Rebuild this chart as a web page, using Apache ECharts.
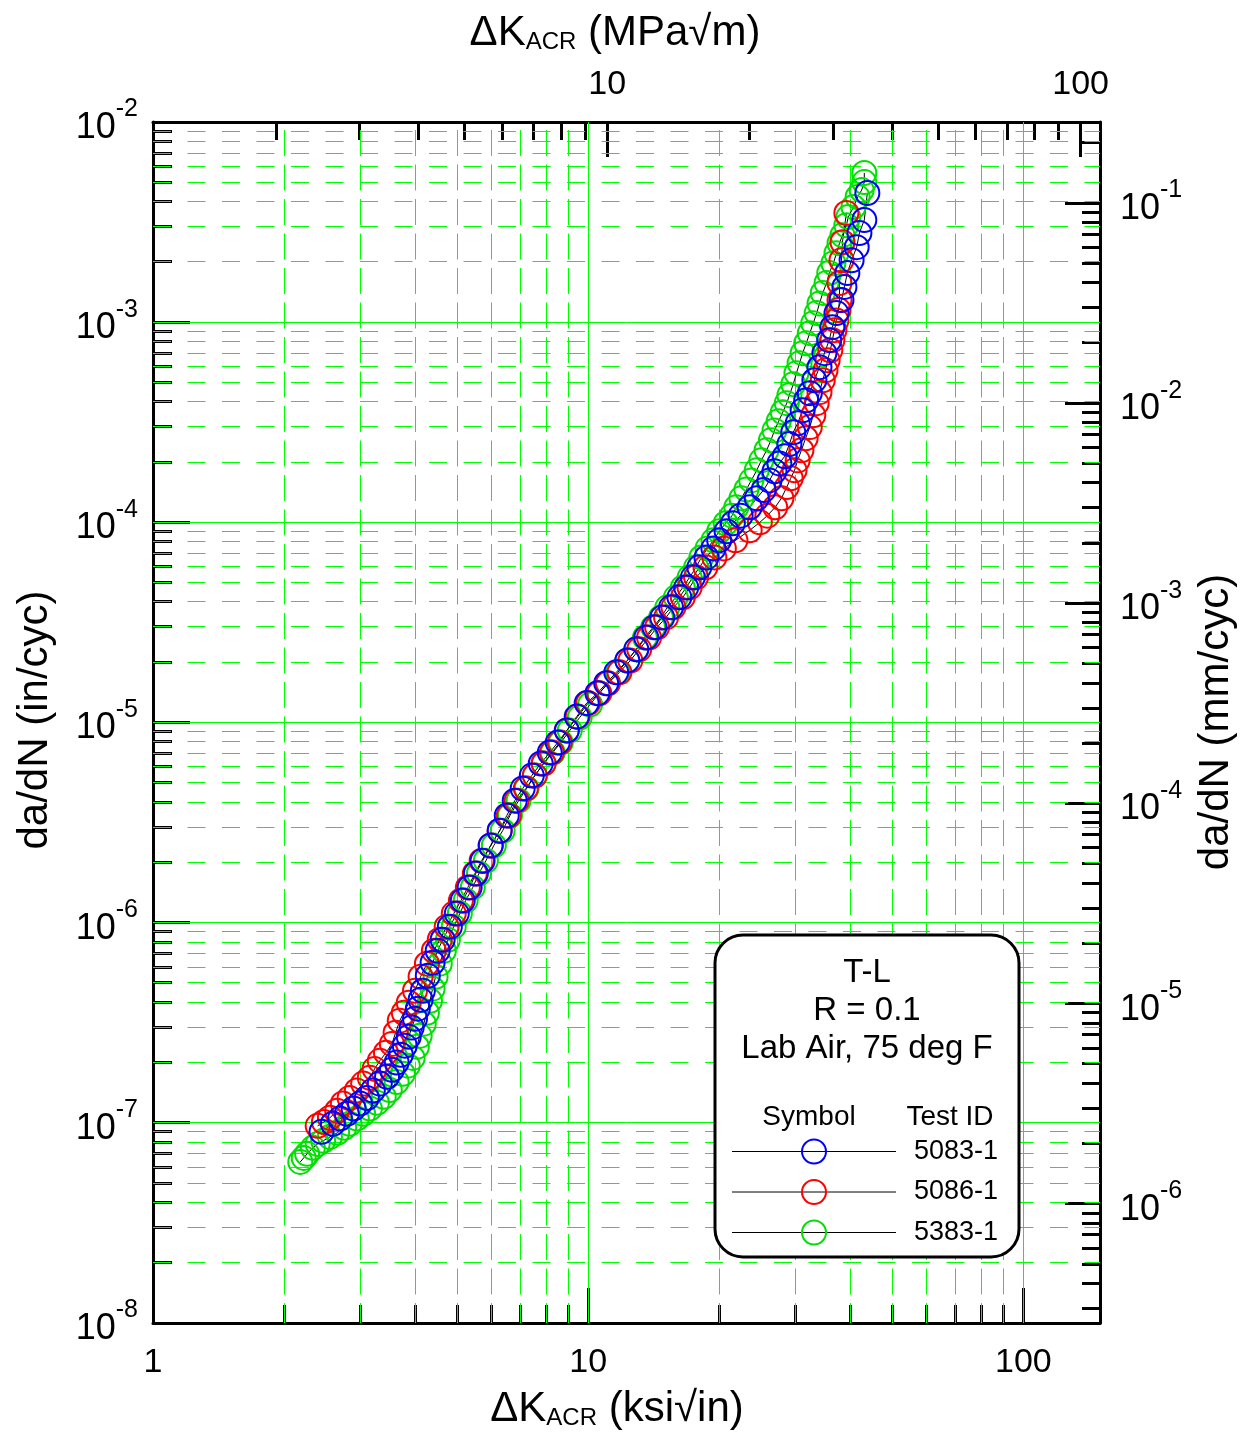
<!DOCTYPE html>
<html>
<head>
<meta charset="utf-8">
<script src="https://cdn.jsdelivr.net/npm/echarts@6/dist/echarts.min.js"></script>
<style>html,body{margin:0;padding:0;background:#fff;}#c{width:1249px;height:1448px;}</style>
</head>
<body>
<div id="c"></div>
<script>
// ---------------- data (ΔK in ksi√in, da/dN in in/cyc) ----------------
const blue5083 = [[2.44,9.02e-8],[2.59,9.89e-8],[2.69,1.05e-7],[2.79,1.11e-7],[2.89,1.18e-7],[2.99,1.25e-7],[3.10,1.33e-7],[3.20,1.45e-7],[3.32,1.57e-7],[3.45,1.70e-7],[3.54,1.84e-7],[3.63,2.00e-7],[3.71,2.19e-7],[3.79,2.43e-7],[3.87,2.69e-7],[3.93,2.99e-7],[4.00,3.31e-7],[4.06,3.72e-7],[4.12,4.12e-7],[4.17,4.57e-7],[4.28,5.43e-7],[4.39,6.31e-7],[4.51,7.24e-7],[4.63,8.22e-7],[4.81,9.55e-7],[4.99,1.11e-6],[5.15,1.29e-6],[5.34,1.50e-6],[5.52,1.76e-6],[5.72,2.04e-6],[5.97,2.43e-6],[6.26,2.88e-6],[6.50,3.43e-6],[6.78,4.07e-6],[7.07,4.68e-6],[7.42,5.43e-6],[7.78,6.24e-6],[8.16,7.08e-6],[8.51,7.94e-6],[8.93,9.12e-6],[9.41,1.07e-5],[9.92,1.25e-5],[10.5,1.40e-5],[11.0,1.57e-5],[11.6,1.78e-5],[12.3,2.04e-5],[12.9,2.32e-5],[13.6,2.66e-5],[14.2,2.99e-5],[14.8,3.35e-5],[15.5,3.76e-5],[16.2,4.22e-5],[16.8,4.73e-5],[17.4,5.31e-5],[18.0,5.96e-5],[18.7,6.68e-5],[19.4,7.41e-5],[20.0,8.13e-5],[20.8,9.02e-5],[21.5,9.89e-5],[22.4,1.08e-4],[23.5,1.19e-4],[24.4,1.32e-4],[25.3,1.45e-4],[26.1,1.62e-4],[26.8,1.80e-4],[27.5,1.97e-4],[28.3,2.14e-4],[29.0,2.46e-4],[29.6,2.82e-4],[30.3,3.13e-4],[31.1,3.63e-4],[31.7,4.07e-4],[32.3,4.42e-4],[33.1,5.13e-4],[34.0,5.96e-4],[34.9,7.00e-4],[35.8,8.13e-4],[36.4,9.44e-4],[37.2,1.11e-3],[38.2,1.29e-3],[38.8,1.50e-3],[39.4,1.76e-3],[40.3,2.04e-3],[41.4,2.37e-3],[42.0,2.79e-3],[43.1,3.24e-3],[43.8,4.42e-3]];

const red5086 = [[2.39,9.66e-8],[2.47,1.01e-7],[2.55,1.06e-7],[2.65,1.15e-7],[2.73,1.25e-7],[2.83,1.33e-7],[2.94,1.45e-7],[3.04,1.57e-7],[3.15,1.68e-7],[3.23,1.86e-7],[3.32,2.04e-7],[3.43,2.24e-7],[3.54,2.48e-7],[3.61,2.82e-7],[3.69,3.24e-7],[3.77,3.55e-7],[3.87,3.98e-7],[4.00,4.57e-7],[4.12,5.37e-7],[4.26,6.24e-7],[4.42,7.24e-7],[4.56,8.22e-7],[4.73,9.55e-7],[4.91,1.11e-6],[5.10,1.29e-6],[5.29,1.50e-6],[5.49,1.76e-6],[5.69,2.04e-6],[5.97,2.43e-6],[6.26,2.88e-6],[6.57,3.43e-6],[6.85,4.07e-6],[7.19,4.68e-6],[7.54,5.43e-6],[7.90,6.24e-6],[8.25,7.08e-6],[8.60,7.94e-6],[8.93,9.12e-6],[9.46,1.07e-5],[10.0,1.25e-5],[10.6,1.40e-5],[11.1,1.57e-5],[11.8,1.78e-5],[12.5,2.04e-5],[13.1,2.32e-5],[13.8,2.66e-5],[14.4,2.99e-5],[15.1,3.35e-5],[15.7,3.76e-5],[16.5,4.22e-5],[17.1,4.73e-5],[17.7,5.31e-5],[18.6,5.96e-5],[19.5,6.68e-5],[20.5,7.41e-5],[21.8,8.13e-5],[23.5,9.12e-5],[24.8,1.00e-4],[25.8,1.08e-4],[26.9,1.19e-4],[27.8,1.32e-4],[28.6,1.50e-4],[29.2,1.66e-4],[29.8,1.82e-4],[30.3,2.04e-4],[30.9,2.29e-4],[31.6,2.63e-4],[32.3,2.99e-4],[32.9,3.43e-4],[33.5,3.94e-4],[34.0,4.47e-4],[34.6,5.13e-4],[35.1,5.75e-4],[35.5,6.46e-4],[36.0,7.24e-4],[36.4,8.13e-4],[36.8,9.12e-4],[37.2,1.02e-3],[37.6,1.15e-3],[37.8,1.29e-3],[37.8,1.57e-3],[38.2,2.04e-3],[38.4,2.51e-3],[39.2,3.51e-3]];

const green5383 = [[2.18,6.38e-8],[2.22,6.68e-8],[2.26,7.00e-8],[2.33,7.50e-8],[2.39,7.85e-8],[2.46,8.13e-8],[2.55,8.51e-8],[2.65,8.91e-8],[2.75,9.44e-8],[2.83,9.89e-8],[2.94,1.05e-7],[3.04,1.11e-7],[3.15,1.18e-7],[3.27,1.26e-7],[3.39,1.35e-7],[3.50,1.46e-7],[3.63,1.60e-7],[3.75,1.76e-7],[3.85,1.93e-7],[3.95,2.11e-7],[4.04,2.40e-7],[4.10,2.72e-7],[4.19,3.13e-7],[4.26,3.55e-7],[4.33,4.07e-7],[4.39,4.68e-7],[4.46,5.37e-7],[4.56,6.24e-7],[4.66,7.24e-7],[4.76,8.22e-7],[4.91,9.55e-7],[5.07,1.11e-6],[5.23,1.29e-6],[5.43,1.50e-6],[5.61,1.76e-6],[5.82,2.04e-6],[6.07,2.43e-6],[6.36,2.88e-6],[6.61,3.43e-6],[6.92,4.07e-6],[7.22,4.68e-6],[7.54,5.43e-6],[7.90,6.24e-6],[8.29,7.08e-6],[8.65,7.94e-6],[9.07,9.12e-6],[9.56,1.06e-5],[10.1,1.23e-5],[10.6,1.40e-5],[11.1,1.57e-5],[11.7,1.78e-5],[12.3,2.04e-5],[12.9,2.32e-5],[13.5,2.66e-5],[14.1,2.99e-5],[14.7,3.35e-5],[15.2,3.76e-5],[15.9,4.22e-5],[16.5,4.73e-5],[17.1,5.31e-5],[17.7,5.96e-5],[18.2,6.68e-5],[18.8,7.41e-5],[19.4,8.13e-5],[20.0,9.02e-5],[20.7,9.89e-5],[21.4,1.08e-4],[21.9,1.19e-4],[22.5,1.32e-4],[23.1,1.46e-4],[23.7,1.62e-4],[24.4,1.82e-4],[25.0,2.04e-4],[25.7,2.29e-4],[26.3,2.57e-4],[26.8,2.88e-4],[27.4,3.20e-4],[28.0,3.55e-4],[28.6,3.94e-4],[29.0,4.32e-4],[29.6,4.90e-4],[30.1,5.56e-4],[30.6,6.24e-4],[31.1,7.00e-4],[31.7,7.85e-4],[32.3,8.81e-4],[32.9,9.89e-4],[33.5,1.11e-3],[34.0,1.24e-3],[34.6,1.40e-3],[35.3,1.57e-3],[35.8,1.76e-3],[36.6,1.97e-3],[37.2,2.21e-3],[37.8,2.48e-3],[38.4,2.72e-3],[39.2,3.05e-3],[39.6,3.35e-3],[40.7,3.76e-3],[41.6,4.22e-3],[42.5,4.57e-3],[43.1,5.01e-3],[43.1,5.56e-3]];

// ---------------- axes / ticks ----------------
const ksiRange = [1, 150];
const mpaRange = [1.0988, 109.88];
const inRange = [1e-8, 1e-2];
const mmRange = [2.54e-7, 0.254];
const mantissas = [2, 3, 4, 5, 6, 7, 8, 9];
const ksiMajor = [10, 100];
const ksiMinor = [2, 3, 4, 5, 6, 7, 8, 9, 20, 30, 40, 50, 60, 70, 80, 90];
const mpaMajor = [10, 100];
const mpaMinor = [2, 3, 4, 5, 6, 7, 8, 9, 20, 30, 40, 50, 60, 70, 80, 90];
const inDecades = [1e-8, 1e-7, 1e-6, 1e-5, 1e-4, 1e-3, 1e-2];
const mmDecades = [1e-7, 1e-6, 1e-5, 1e-4, 1e-3, 1e-2, 1e-1];
const inMajorInner = [1e-7, 1e-6, 1e-5, 1e-4, 1e-3];
const mmMajor = [1e-6, 1e-5, 1e-4, 1e-3, 1e-2, 1e-1];
const inMinor = inDecades.flatMap(d => mantissas.map(m => m * d)).filter(v => v > inRange[0] && v < inRange[1]);
const mmMinor = mmDecades.flatMap(d => mantissas.map(m => m * d)).filter(v => v > mmRange[0] && v < mmRange[1]);

const legendItems = [
  {id: '5083-1', color: '#0000ff'},
  {id: '5086-1', color: '#ff0000'},
  {id: '5383-1', color: '#00e000'}
];
const infoLines = ['T-L', 'R = 0.1', 'Lab Air, 75 deg F'];

const FONT = '"Liberation Sans", Arial, Helvetica, sans-serif';
const GREEN = '#00ff00';

function isDecade(v) { const l = Math.log10(v); return Math.abs(l - Math.round(l)) < 1e-6; }
function xLabel(v) { return isDecade(v) ? String(Math.round(v)) : ''; }
function yLabel(v) { return isDecade(v) ? '{b|10}{s|' + Math.round(Math.log10(v)) + '}' : ''; }

const yRich = {
  b: {fontSize: 36, fontFamily: FONT, color: '#000', lineHeight: 50, padding: [12, 0, 0, 0]},
  s: {fontSize: 25, fontFamily: FONT, color: '#000', lineHeight: 38, verticalAlign: 'top'}
};

const crisp = v => Math.round(v - 0.5) + 0.5;

// kind: 'v' vertical grid, 'h' horizontal grid, 'tb','tt','tl','tr' ticks
function lineSeries(values, kind, xi, yi, opt) {
  const vertical = (kind === 'v' || kind === 'tb' || kind === 'tt');
  return {
    type: 'custom', xAxisIndex: xi, yAxisIndex: yi, silent: true, animation: false, z: opt.z, clip: false,
    data: values.map(v => vertical ? [v, 1e-5] : [10, v]),
    renderItem: function (params, api) {
      const cs = params.coordSys;
      const p = api.coord([api.value(0), api.value(1)]);
      const L = cs.x, R = cs.x + cs.width, T = cs.y, B = cs.y + cs.height;
      let shape;
      if (kind === 'v') { const x = crisp(p[0]); shape = {x1: x, y1: T, x2: x, y2: B}; }
      else if (kind === 'h') { const y = crisp(p[1]); shape = {x1: L, y1: y, x2: R, y2: y}; }
      else if (kind === 'tb') { const x = crisp(p[0]); shape = {x1: x, y1: B, x2: x, y2: B - opt.len}; }
      else if (kind === 'tt') { const x = crisp(p[0]); shape = {x1: x, y1: T, x2: x, y2: T + opt.len}; }
      else if (kind === 'tl') { const y = crisp(p[1]); shape = {x1: L, y1: y, x2: L + opt.len, y2: y}; }
      else { const y = crisp(p[1]); shape = {x1: R, y1: y, x2: R - opt.len, y2: y}; }
      const style = {stroke: opt.color, lineWidth: opt.width, fill: null};
      if (opt.dash) { style.lineDash = opt.dash; style.lineDashOffset = opt.offset || 0; }
      return {type: 'line', shape: shape, style: style};
    }
  };
}

function dataSeries(name, data, color) {
  return {
    name: name, type: 'line', data: data, xAxisIndex: 0, yAxisIndex: 0,
    symbol: 'circle', symbolSize: 24, showSymbol: true, showAllSymbol: true,
    itemStyle: {color: 'rgba(0,0,0,0)', borderColor: color, borderWidth: 2},
    lineStyle: {color: '#000', width: 1},
    emphasis: {disabled: true}, silent: true, animation: false, z: 5, clip: false
  };
}

const axisLineStyle = {show: true, onZero: false, lineStyle: {color: '#000', width: 3}};

const titleRich = {
  m: {fontSize: 42, fontFamily: FONT, fill: '#000', lineHeight: 42},
  s: {fontSize: 24, fontFamily: FONT, fill: '#000', lineHeight: 6, verticalAlign: 'bottom'}
};

const graphic = [];
// axis titles
graphic.push({
  type: 'text', x: 615, y: 33, z: 50,
  style: {text: '{m|ΔK}{s|ACR}{m| (MPa√m)}', align: 'center', verticalAlign: 'middle', textAlign: 'center', textVerticalAlign: 'middle', rich: titleRich}
});
graphic.push({
  type: 'text', x: 617, y: 1409, z: 50,
  style: {text: '{m|ΔK}{s|ACR}{m| (ksi√in)}', align: 'center', verticalAlign: 'middle', textAlign: 'center', textVerticalAlign: 'middle', rich: titleRich}
});
graphic.push({
  type: 'text', x: 35, y: 720, rotation: Math.PI / 2, z: 50,
  style: {text: 'da/dN (in/cyc)', font: '42px ' + FONT, fill: '#000', align: 'center', verticalAlign: 'middle', textAlign: 'center', textVerticalAlign: 'middle'}
});
graphic.push({
  type: 'text', x: 1216, y: 722, rotation: Math.PI / 2, z: 50,
  style: {text: 'da/dN (mm/cyc)', font: '42px ' + FONT, fill: '#000', align: 'center', verticalAlign: 'middle', textAlign: 'center', textVerticalAlign: 'middle'}
});
// legend box
graphic.push({type: 'rect', z: 100, shape: {x: 715, y: 935, width: 304, height: 322, r: 28}, style: {fill: '#fff', stroke: '#000', lineWidth: 3}});
infoLines.forEach((t, i) => graphic.push({
  type: 'text', z: 101, x: 867, y: 973 + i * 38,
  style: {text: t, font: '33px ' + FONT, fill: '#000', align: 'center', verticalAlign: 'middle', textAlign: 'center', textVerticalAlign: 'middle'}
}));
graphic.push({type: 'text', z: 101, x: 809, y: 1117, style: {text: 'Symbol', font: '28px ' + FONT, fill: '#000', align: 'center', verticalAlign: 'middle', textAlign: 'center', textVerticalAlign: 'middle'}});
graphic.push({type: 'text', z: 101, x: 950, y: 1117, style: {text: 'Test ID', font: '28px ' + FONT, fill: '#000', align: 'center', verticalAlign: 'middle', textAlign: 'center', textVerticalAlign: 'middle'}});
legendItems.forEach((it, i) => {
  const y = 1151.5 + i * 40.5;
  graphic.push({type: 'line', z: 101, shape: {x1: 732, y1: y, x2: 896, y2: y}, style: {stroke: '#000', lineWidth: 1}});
  graphic.push({type: 'circle', z: 102, shape: {cx: 814, cy: y, r: 12}, style: {fill: null, stroke: it.color, lineWidth: 2}});
  graphic.push({type: 'text', z: 101, x: 998, y: y, style: {text: it.id, font: '27px ' + FONT, fill: '#000', align: 'right', verticalAlign: 'middle', textAlign: 'right', textVerticalAlign: 'middle'}});
});

const option = {
  animation: false,
  backgroundColor: '#ffffff',
  grid: {left: 153, top: 122, width: 947, height: 1201, containLabel: false, outerBoundsMode: 'none'},
  xAxis: [
    {type: 'log', logBase: 10, min: ksiRange[0], max: ksiRange[1], position: 'bottom',
      axisLine: axisLineStyle, axisTick: {show: false}, minorTick: {show: false}, splitLine: {show: false},
      axisLabel: {fontSize: 34, fontFamily: FONT, color: '#000', margin: 23, showMaxLabel: false, formatter: xLabel}},
    {type: 'log', logBase: 10, min: mpaRange[0], max: mpaRange[1], position: 'top',
      axisLine: axisLineStyle, axisTick: {show: false}, minorTick: {show: false}, splitLine: {show: false},
      axisLabel: {fontSize: 34, fontFamily: FONT, color: '#000', margin: 20, showMinLabel: false, showMaxLabel: false, formatter: xLabel}}
  ],
  yAxis: [
    {type: 'log', logBase: 10, min: inRange[0], max: inRange[1], position: 'left',
      axisLine: axisLineStyle, axisTick: {show: false}, minorTick: {show: false}, splitLine: {show: false},
      axisLabel: {margin: 15, formatter: yLabel, rich: yRich}},
    {type: 'log', logBase: 10, min: mmRange[0], max: mmRange[1], position: 'right',
      axisLine: axisLineStyle, axisTick: {show: false}, minorTick: {show: false}, splitLine: {show: false},
      axisLabel: {margin: 20, showMinLabel: false, showMaxLabel: false, formatter: yLabel, rich: yRich}}
  ],
  graphic: graphic,
  series: [
    // ticks (black)
    lineSeries(ksiMinor, 'tb', 0, 0, {len: 18, color: '#000', width: 3, z: 1}),
    lineSeries(ksiMajor, 'tb', 0, 0, {len: 35, color: '#000', width: 3, z: 1}),
    lineSeries(mpaMinor, 'tt', 1, 0, {len: 18, color: '#000', width: 3, z: 1}),
    lineSeries(mpaMajor, 'tt', 1, 0, {len: 35, color: '#000', width: 3, z: 1}),
    lineSeries(inMinor, 'tl', 0, 0, {len: 19, color: '#000', width: 3, z: 1}),
    lineSeries(inDecades, 'tl', 0, 0, {len: 37, color: '#000', width: 3, z: 1}),
    lineSeries(mmMinor, 'tr', 0, 1, {len: 18, color: '#000', width: 3, z: 1}),
    lineSeries(mmMajor, 'tr', 0, 1, {len: 35, color: '#000', width: 3, z: 1}),
    // grid (green)
    lineSeries(ksiMinor, 'v', 0, 0, {color: GREEN, width: 1, dash: [26, 8.5], offset: 26.5, z: 2}),
    lineSeries(ksiMajor, 'v', 0, 0, {color: GREEN, width: 1, z: 2}),
    lineSeries(inMinor, 'h', 0, 0, {color: GREEN, width: 1, dash: [18, 16.5], offset: 0, z: 2}),
    lineSeries(inMajorInner, 'h', 0, 0, {color: GREEN, width: 1, z: 2}),
    // data
    dataSeries('5383-1', green5383, legendItems[2].color),
    dataSeries('5086-1', red5086, legendItems[1].color),
    dataSeries('5083-1', blue5083, legendItems[0].color)
  ]
};

const chart = echarts.init(document.getElementById('c'), null, {renderer: 'canvas'});
chart.setOption(option);
</script>
</body>
</html>
